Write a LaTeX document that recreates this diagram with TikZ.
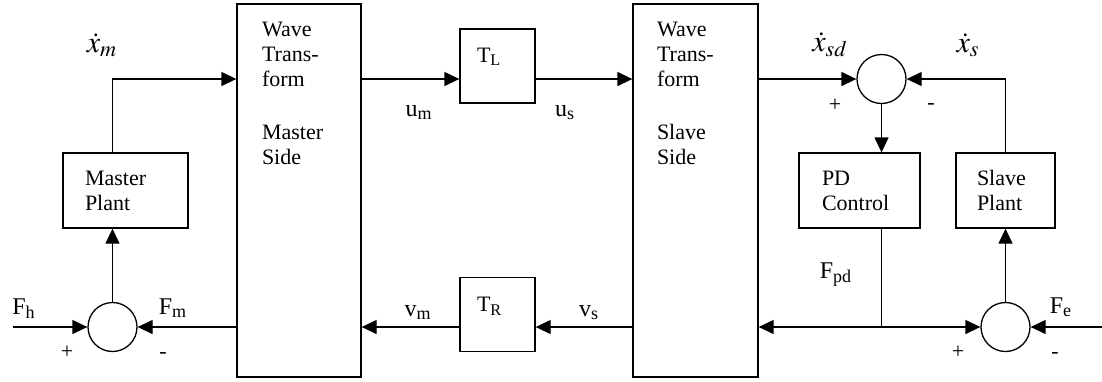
\documentclass[tikz,border=0pt]{standalone}
\usepackage{mathptmx}
\usepackage{fontspec}
\setmainfont{Liberation Serif}
\usetikzlibrary{positioning,arrows.meta,calc}

\begin{document}
\begin{tikzpicture}[x=0.5pt, y=-0.5pt, >={Triangle[length=7.5pt,width=7pt]},
  font=\fontsize{11}{12.5}\selectfont, line width=0.65pt,
  blk/.style={draw, inner sep=0pt},
  sumpt/.style={draw, circle, minimum size=24.5pt, inner sep=0pt},
  txt/.style={anchor=base west, align=left, inner sep=0pt},
  lbl/.style={anchor=base, inner sep=0pt, font=\fontsize{12}{14}\selectfont},
  mlbl/.style={inner sep=0pt, font=\fontsize{15}{18}\selectfont},
  sgn/.style={inner sep=0pt}]
  \useasboundingbox (0,0) rectangle (1102,381);

  % blocks
  \node[blk, minimum width=62pt, minimum height=186.5pt] (wm) at (299,190.5) {};
  \node[blk, minimum width=62.5pt, minimum height=186.5pt] (ws) at (695.5,190.5) {};
  \node[blk, minimum width=62.5pt, minimum height=37.5pt] (mp) at (125.5,190.5) {};
  \node[blk, minimum width=60.5pt, minimum height=37.5pt] (pd) at (859.5,190.5) {};
  \node[blk, minimum width=49.5pt, minimum height=37.5pt] (sp) at (1005.5,190.5) {};
  \node[blk, minimum width=37.5pt, minimum height=37pt] (tl) at (497.5,66) {};
  \node[blk, minimum width=37.5pt, minimum height=37pt] (tr) at (497.5,314.5) {};

  % block texts (anchored at the baseline of the last line)
  \node[txt] (wmtxt) at ($(wm.north west)+(25,161)$) {Wave\\Trans-\\form\\[14pt]Master\\Side};
  \node[txt] (wstxt) at ($(ws.north west)+(24,161)$) {Wave\\Trans-\\form\\[14pt]Slave\\Side};
  \node[txt] (mptxt) at ($(mp.north west)+(22,58)$) {Master\\Plant};
  \node[txt] (pdtxt) at ($(pd.north west)+(23,58)$) {PD\\Control};
  \node[txt] (sptxt) at ($(sp.north west)+(21,58)$) {Slave\\Plant};
  \node[txt] (tltxt) at ($(tl.north west)+(17,34)$) {T\textsubscript{L}};
  \node[txt] (trtxt) at ($(tr.north west)+(17,35)$) {T\textsubscript{R}};

  % summing points
  \node[sumpt] (sm) at (112.5,327) {};
  \node[sumpt] (sd) at (881.5,79) {};
  \node[sumpt] (se) at (1005.5,327) {};

  \coordinate (fh) at (13,327);
  \coordinate (fe) at (1102,327);
  \coordinate (jn) at (sd |- se);

  % master side
  \draw[->] (fh) -- (sm);
  \draw[->] (wm.west |- sm) -- (sm);
  \draw[->] (sm) -- (mp.south -| sm);
  \draw[->] (mp.north -| sm) |- (wm.west |- sd);

  % channel
  \draw[->] (wm.east |- sd) -- (tl.west |- sd);
  \draw[->] (tl.east |- sd) -- (ws.west |- sd);
  \draw[->] (ws.west |- se) -- (tr.east |- se);
  \draw[->] (tr.west |- se) -- (wm.east |- se);

  % slave side
  \draw[->] (ws.east |- sd) -- (sd);
  \draw[->] (sp.north) |- (sd);
  \draw[->] (sd) -- (pd.north -| sd);
  \draw (pd.south -| jn) -- (jn);
  \draw[->] (jn) -- (ws.east |- jn);
  \draw[->] (jn) -- (se);
  \draw[->] (se) -- (sp.south);
  \draw[->] (fe) -- (se);

  % labels
  \node[mlbl] (xm) at (102,45) {$\dot{x}_{m}$};
  \node[lbl] (lfh) at (24,314) {F\textsubscript{h}};
  \node[lbl] (lfm) at (173,314) {F\textsubscript{m}};
  \node[sgn] (pl1) at (67,352) {+};
  \node[sgn] (mi1) at (163,355) {-};
  \node[lbl] (lum) at (419,116) {u\textsubscript{m}};
  \node[lbl] (lus) at (565,116) {u\textsubscript{s}};
  \node[lbl] (lvm) at (418,316) {v\textsubscript{m}};
  \node[lbl] (lvs) at (589,316) {v\textsubscript{s}};
  \node[mlbl] (xsd) at (830,45) {$\dot{x}_{sd}$};
  \node[mlbl] (xs) at (968,45) {$\dot{x}_{s}$};
  \node[sgn] (pl2) at (835,105) {+};
  \node[sgn] (mi2) at (931,106) {-};
  \node[lbl] (lfpd) at (836,278) {F\textsubscript{pd}};
  \node[lbl] (lfe) at (1061,313) {F\textsubscript{e}};
  \node[sgn] (pl3) at (958,352) {+};
  \node[sgn] (mi3) at (1055,355) {-};
\end{tikzpicture}
\end{document}
